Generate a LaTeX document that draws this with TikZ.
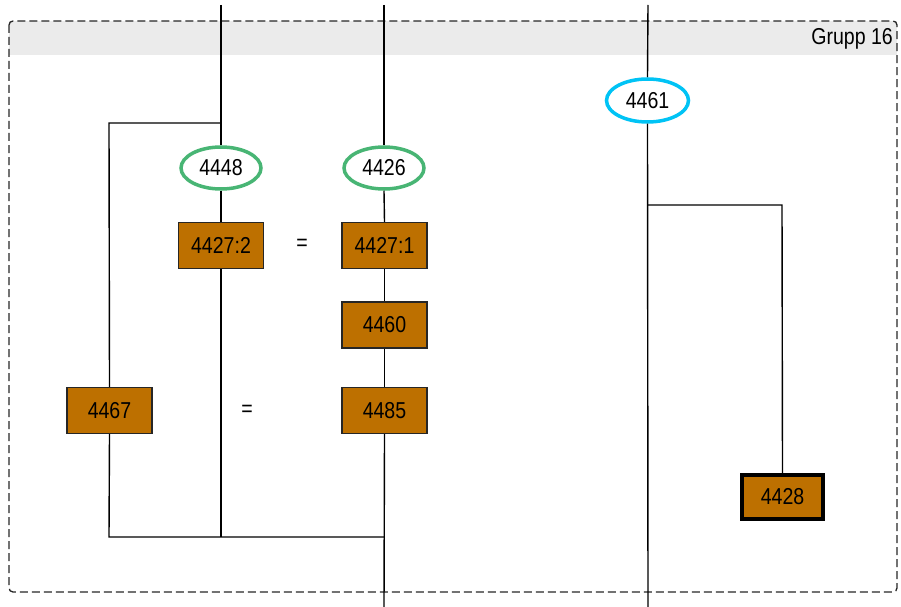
\documentclass[tikz,border=0pt]{standalone}
\usepackage{fontspec}
\setmainfont{Liberation Sans}[FakeStretch=0.85]
\usetikzlibrary{shapes.geometric}
\definecolor{boxfill}{RGB}{189,112,0}
\definecolor{ovgreen}{RGB}{72,181,116}
\definecolor{ovcyan}{RGB}{0,195,245}
\definecolor{headgray}{RGB}{235,235,235}
\tikzset{
  lbl/.style={font=\fontsize{23bp}{27bp}\selectfont, inner sep=0pt},
  unitbox/.style={lbl, rectangle, draw=black!85, line width=1.3bp, fill=boxfill, minimum width=85bp, minimum height=46bp},
  mainbox/.style={unitbox, draw=black, line width=4bp, minimum width=81bp, minimum height=44bp},
  ovnode/.style={lbl, ellipse, fill=white, line width=3.5bp, minimum width=80bp, minimum height=42bp},
  wire/.style={draw=black, line width=1.4bp},
}
\begin{document}
\begin{tikzpicture}[x=1bp,y=-1bp]
\useasboundingbox (0,0) rectangle (901,607);
% group frame
\fill[headgray] (9,21) rectangle (897,55);
\draw[dashed, dash pattern=on 8bp off 4bp, line width=1.3bp, rounded corners=4bp, draw=black!85] (9,21) rectangle (897,592);
\node[lbl, anchor=east] (grp) at (893,39) {Grupp 16};
% coordinates
\coordinate (t1) at (221,5);
\coordinate (t2) at (384,5);
\coordinate (t3) at (648,5);
\coordinate (b2) at (384,607);
\coordinate (b3) at (648,607);
\coordinate (j1) at (221,123);
\coordinate (c1) at (109,123);
\coordinate (j2) at (648,205);
\coordinate (c2) at (782,205);
\coordinate (m1) at (109,537);
\coordinate (m2) at (221,537);
\coordinate (m3) at (384,537);
% nodes
\node[ovnode, draw=ovgreen] (o4448) at (221,168) {4448};
\node[ovnode, draw=ovgreen] (o4426) at (384,168) {4426};
\node[ovnode, draw=ovcyan, minimum width=82bp, minimum height=43bp] (o4461) at (647.5,100.5) {4461};
\node[unitbox] (u4427b) at (221,245.5) {4427:2};
\node[unitbox] (u4427a) at (384.5,245.5) {4427:1};
\node[unitbox] (u4460) at (384.5,325) {4460};
\node[unitbox] (u4485) at (384.5,410.5) {4485};
\node[unitbox] (u4467) at (109.5,410.5) {4467};
\node[mainbox] (u4428) at (782.5,497) {4428};
\node[lbl] (eq1) at (302,245) {=};
\node[lbl] (eq2) at (247,411) {=};
% wires
\draw[wire] (t1) -- (o4448.north);
\draw[wire] (o4448.south) -- (u4427b.north);
\draw[wire] (u4427b.south) -- (m2);
\draw[wire] (j1) -- (c1) -- (u4467.north);
\draw[wire] (u4467.south) -- (m1) -- (m3);
\draw[wire] (t2) -- (o4426.north);
\draw[wire] (o4426.south) -- (u4427a.north);
\draw[wire] (u4427a.south) -- (u4460.north);
\draw[wire] (u4460.south) -- (u4485.north);
\draw[wire] (u4485.south) -- (b2);
\draw[wire] (t3) -- (o4461.north);
\draw[wire] (o4461.south) -- (b3);
\draw[wire] (j2) -- (c2) -- (u4428.north);
\end{tikzpicture}
\end{document}
